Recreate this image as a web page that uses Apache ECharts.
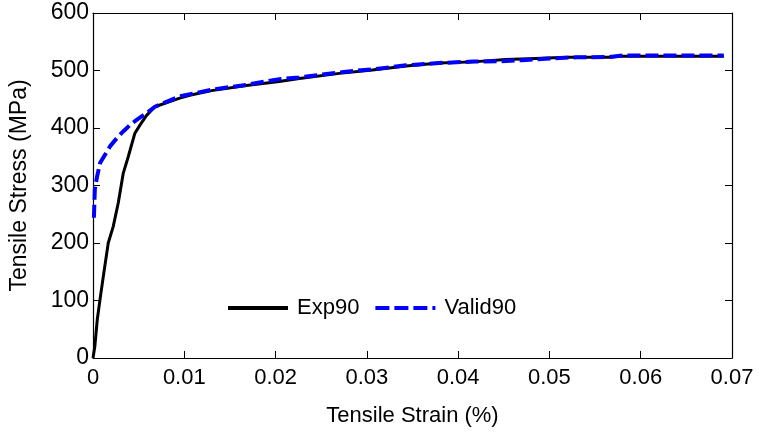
<!DOCTYPE html>
<html>
<head>
<meta charset="utf-8">
<script src="https://cdn.jsdelivr.net/npm/echarts@6/dist/echarts.min.js"></script>
<style>html,body{margin:0;padding:0;background:#fff}#c{width:759px;height:432px}</style>
</head>
<body>
<div id="c"></div>
<script>
var seriesNames = ['Exp90', 'Valid90'];
var xTicks = [0, 0.01, 0.02, 0.03, 0.04, 0.05, 0.06, 0.07];
var yTicks = [0, 100, 200, 300, 400, 500, 600];
var exp90Strain = [0, 0.00014, 0.0002, 0.00047, 0.00077, 0.00113, 0.00167, 0.00222, 0.00277, 0.00331, 0.00386, 0.00459, 0.00514, 0.00587, 0.00678, 0.0095, 0.0106, 0.013, 0.0168, 0.0204, 0.0226, 0.027, 0.0306, 0.0343, 0.0379, 0.0416, 0.0452, 0.0485, 0.0518, 0.0565, 0.058, 0.0691];
var exp90Stress = [0, 2, 20, 67, 102, 142, 200, 229, 270, 321, 350, 391, 405, 422, 437, 452, 457, 465, 474, 481, 486, 495, 501, 508, 513, 515, 519, 521, 523, 523, 525, 525];
var valid90Strain = [0.0001, 0.0002, 0.00044, 0.00077, 0.00186, 0.00259, 0.00331, 0.00404, 0.00478, 0.00587, 0.00678, 0.0095, 0.0131, 0.0168, 0.0204, 0.0226, 0.0277, 0.0306, 0.0343, 0.0379, 0.0416, 0.0445, 0.047, 0.05, 0.053, 0.0565, 0.058, 0.0691];
var valid90Stress = [244, 293, 315, 339, 368, 382, 394, 405, 414, 426, 437, 455, 467, 475, 485, 488, 498, 502, 509, 513, 515.5, 516, 518, 521, 523, 523.5, 526, 526];

function zip(a, b) { return a.map(function (v, i) { return [v, b[i]]; }); }

var FONT = 'Liberation Sans';
var chart = echarts.init(document.getElementById('c'));
var axisLineStyle = { color: '#000', width: 1.2 };
chart.setOption({
  animation: false,
  backgroundColor: '#fff',
  grid: { left: 93, right: 27, top: 13, bottom: 73, containLabel: false },
  legend: {
    data: [
      { name: seriesNames[0], icon: 'path://M0,0H60V4H0Z' },
      { name: seriesNames[1], icon: 'path://M0,0H14V4H0Z M19,0H33V4H19Z M38,0H52V4H38Z M57,0H60V4H57Z' }
    ],
    left: 223, top: 292,
    itemWidth: 60, itemHeight: 4, itemGap: 16,
    textStyle: { fontFamily: FONT, fontSize: 22, color: '#000', padding: [0, 0, 0, 4], letterSpacing: -0.8 }
  },
  xAxis: [{
    type: 'value', min: 0, max: 0.07, interval: 0.01,
    name: 'Tensile Strain (%)', nameLocation: 'middle', nameGap: 47,
    nameTextStyle: { fontFamily: FONT, fontSize: 22, color: '#000', letterSpacing: -0.6 },
    axisLine: { show: true, onZero: false, lineStyle: axisLineStyle },
    axisTick: { show: true, inside: true, length: 7, lineStyle: { color: '#000' } },
    axisLabel: { fontFamily: FONT, fontSize: 22, color: '#000', margin: 9, letterSpacing: -0.5,
      formatter: function (v) { var i = Math.round(v * 100); return String(xTicks[i]); } },
    splitLine: { show: false }
  }, {
    type: 'value', position: 'top', min: 0, max: 0.07, interval: 0.01,
    axisLine: { show: true, onZero: false, lineStyle: axisLineStyle },
    axisTick: { show: true, inside: true, length: 7, lineStyle: { color: '#000' } },
    axisLabel: { show: false }, splitLine: { show: false }
  }],
  yAxis: [{
    type: 'value', min: 0, max: 600, interval: 100,
    name: 'Tensile Stress (MPa)', nameLocation: 'middle', nameGap: 62,
    nameTextStyle: { fontFamily: FONT, fontSize: 23, color: '#000', letterSpacing: -0.5 },
    axisLine: { show: true, onZero: false, lineStyle: axisLineStyle },
    axisTick: { show: true, inside: true, length: 7, lineStyle: { color: '#000' } },
    axisLabel: { fontFamily: FONT, fontSize: 23, color: '#000', margin: 4, letterSpacing: -1,
      formatter: function (v) { return String(yTicks[Math.round(v / 100)]); } },
    splitLine: { show: false }
  }, {
    type: 'value', position: 'right', min: 0, max: 600, interval: 100,
    axisLine: { show: true, onZero: false, lineStyle: axisLineStyle },
    axisTick: { show: true, inside: true, length: 7, lineStyle: { color: '#000' } },
    axisLabel: { show: false }, splitLine: { show: false }
  }],
  series: [{
    name: seriesNames[0], type: 'line', data: zip(exp90Strain, exp90Stress),
    showSymbol: false, symbol: 'none', smooth: false,
    lineStyle: { color: '#000', width: 3 }, itemStyle: { color: '#000' }, z: 2
  }, {
    name: seriesNames[1], type: 'line', data: zip(valid90Strain, valid90Stress),
    showSymbol: false, symbol: 'none', smooth: false,
    lineStyle: { color: '#0000ff', width: 4, type: [13, 5] }, itemStyle: { color: '#0000ff' }, z: 3
  }]
});
</script>
</body>
</html>
